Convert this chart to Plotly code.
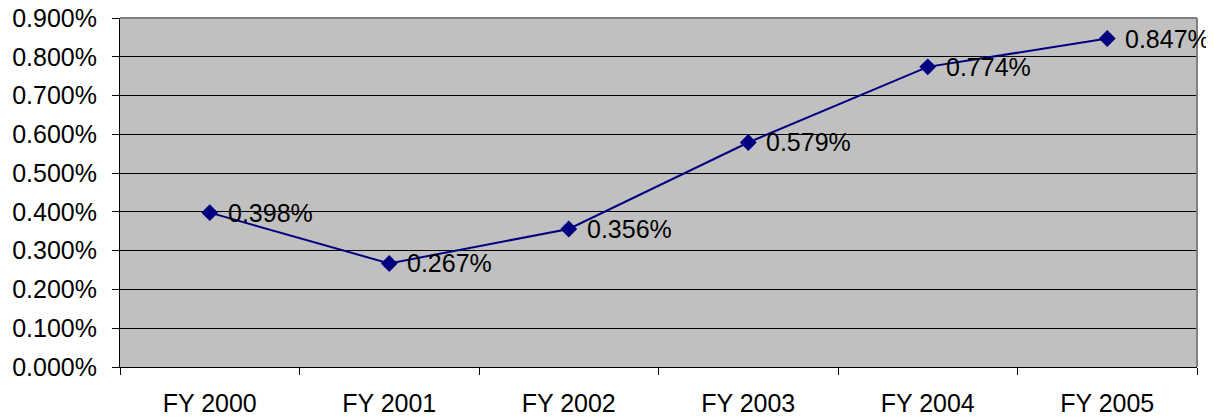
import plotly.graph_objects as go

categories = ["FY 2000", "FY 2001", "FY 2002", "FY 2003", "FY 2004", "FY 2005"]
values = [0.00398, 0.00267, 0.00356, 0.00579, 0.00774, 0.00847]
labels = ["0.398%", "0.267%", "0.356%", "0.579%", "0.774%", "0.847%"]

font = dict(family="Liberation Sans, Arial, sans-serif", size=25, color="black")

fig = go.Figure()
fig.add_trace(go.Scatter(
    x=categories, y=values, mode="lines+markers",
    line=dict(color="#000080", width=2),
    marker=dict(symbol="diamond", size=13, color="#000080"),
    cliponaxis=False, showlegend=False,
))

for c, v, t in zip(categories, values, labels):
    fig.add_annotation(x=c, y=v, text=t, showarrow=False, xanchor="left",
                       yanchor="middle", xshift=16, font=font)

fig.update_layout(
    width=1206, height=409,
    margin=dict(l=112, r=17, t=10, b=50, autoexpand=False),
    paper_bgcolor="white", plot_bgcolor="#C0C0C0",
    font=font,
    xaxis=dict(
        type="category", tickson="boundaries", ticks="outside", ticklen=7,
        tickcolor="black", showline=True, linecolor="black", linewidth=1,
        showgrid=False, ticklabelstandoff=14, tickfont=font,
        range=[-0.5, 5.5], automargin=False, ticklabeloverflow="allow",
    ),
    yaxis=dict(
        range=[0, 0.009], dtick=0.001, tickformat=".3%",
        ticks="outside", ticklen=7, tickcolor="black",
        showline=True, linecolor="black", linewidth=1,
        showgrid=True, gridcolor="black", gridwidth=1,
        zeroline=False, tickfont=font, ticklabelstandoff=10, automargin=False,
        ticklabeloverflow="allow",
    ),
    shapes=[
        dict(type="line", xref="paper", yref="paper", x0=0, x1=1, y0=1, y1=1,
             line=dict(color="#808080", width=2)),
        dict(type="line", xref="paper", yref="paper", x0=1, x1=1, y0=0, y1=1,
             line=dict(color="#808080", width=2)),
    ],
)

fig.write_html("out.html")
